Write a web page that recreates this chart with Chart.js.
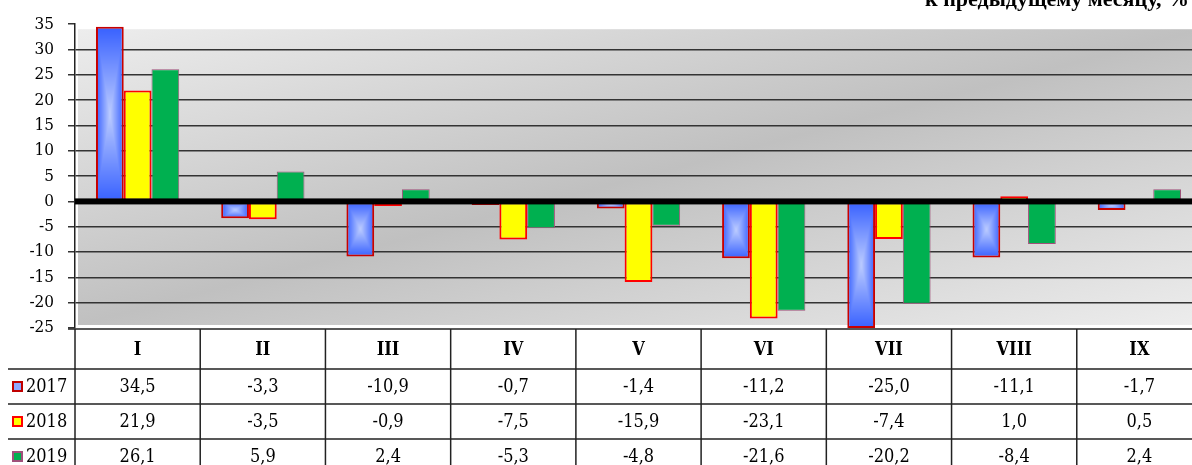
<!DOCTYPE html>
<html lang="ru">
<head>
    <meta charset="UTF-8">
    <title>Индекс к предыдущему месяцу</title>
    <script src="https://cdn.jsdelivr.net/npm/chart.js"></script>
    <style>
        html, body { margin: 0; padding: 0; background: #fff; overflow: hidden; }
        #wrap { position: absolute; left: 0; top: 0; width: 1202px; height: 465px; }
    </style>
</head>
<body>
    <div id="wrap"><canvas id="grafico"></canvas></div>
<script>
    // dados
    var meses = ['I', 'II', 'III', 'IV', 'V', 'VI', 'VII', 'VIII', 'IX'];
    var anos = ['2017', '2018', '2019'];
    var v2017 = [34.5, -3.3, -10.9, -0.7, -1.4, -11.2, -25.0, -11.1, -1.7];
    var v2018 = [21.9, -3.5, -0.9, -7.5, -15.9, -23.1, -7.4, 1.0, 0.5];
    var v2019 = [26.1, 5.9, 2.4, -5.3, -4.8, -21.6, -20.2, -8.4, 2.4];
    var titulo = 'к предыдущему месяцу, %';

    var fonte = '"DejaVu Serif Condensed", "DejaVu Serif"';
    var catPct = 0.665;

    function fmt(v) {
        return v.toFixed(1).replace('.', ',');
    }

    // gradiente "do centro" das barras de 2017
    function padraoAzul(w, h) {
        var cv = document.createElement('canvas');
        cv.width = Math.max(1, Math.round(w));
        cv.height = Math.max(1, Math.round(h));
        var c = cv.getContext('2d');
        var img = c.createImageData(cv.width, cv.height);
        var hw = cv.width / 2, hh = cv.height / 2;
        var ext = [55, 96, 255], cen = [188, 204, 255];
        for (var py = 0; py < cv.height; py++) {
            for (var px = 0; px < cv.width; px++) {
                var t = Math.max(Math.abs(px + 0.5 - hw) / hw, Math.abs(py + 0.5 - hh) / hh);
                var i = (py * cv.width + px) * 4;
                img.data[i] = cen[0] + (ext[0] - cen[0]) * t;
                img.data[i + 1] = cen[1] + (ext[1] - cen[1]) * t;
                img.data[i + 2] = cen[2] + (ext[2] - cen[2]) * t;
                img.data[i + 3] = 255;
            }
        }
        c.putImageData(img, 0, 0);
        return cv;
    }

    function azul(context) {
        var chart = context.chart;
        if (!chart.chartArea) return '#4a70ff';
        var x = chart.scales.x, y = chart.scales.y;
        var w = x.width / meses.length * catPct / 3;
        var cx = x.getPixelForValue(context.dataIndex) - w;
        var yv = y.getPixelForValue(v2017[context.dataIndex]);
        var y0 = y.getPixelForValue(0);
        var topo = Math.min(yv, y0), h = Math.abs(yv - y0);
        var p = chart.ctx.createPattern(padraoAzul(w, h), 'no-repeat');
        p.setTransform(new DOMMatrix().translate(cx - w / 2, topo));
        return p;
    }

    var fundo = {
        id: 'fundo',
        beforeDraw(chart) {
            var a = chart.chartArea, c = chart.ctx;
            var x0 = a.left + 3, y0 = a.top + 5, x1 = chart.width, y1 = a.bottom - 3;
            var W = x1 - x0, H = y1 - y0;
            var cx = (x0 + x1) / 2, cy = (y0 + y1) / 2;
            var k = W * H / (W * W + H * H);
            var g = c.createLinearGradient(cx - H * k, cy - W * k, cx + H * k, cy + W * k);
            g.addColorStop(0, '#ededed');
            g.addColorStop(0.5, '#c0c0c0');
            g.addColorStop(1, '#ededed');
            c.save();
            c.fillStyle = g;
            c.fillRect(x0, y0, W, H);
            c.restore();
        }
    };

    var linhaZero = {
        id: 'linhaZero',
        afterDatasetsDraw(chart) {
            var a = chart.chartArea, c = chart.ctx;
            var y = chart.scales.y.getPixelForValue(0);
            c.save();
            c.fillStyle = '#000';
            c.fillRect(a.left, y - 3, chart.width - a.left, 6);
            c.restore();
        }
    };

    var tabela = {
        id: 'tabela',
        afterDraw(chart) {
            var a = chart.chartArea, c = chart.ctx, x = chart.scales.x;
            var passo = x.width / meses.length;
            var topo = a.bottom + 1;
            var linhas = [topo, topo + 40, topo + 75, topo + 110];
            var series = [v2017, v2018, v2019];
            c.save();
            c.strokeStyle = '#222';
            c.lineWidth = 1.5;
            // linhas horizontais
            c.beginPath();
            c.moveTo(a.left - 7, linhas[0]);
            c.lineTo(chart.width, linhas[0]);
            for (var i = 1; i < linhas.length; i++) {
                c.moveTo(8, linhas[i]);
                c.lineTo(chart.width, linhas[i]);
            }
            // linhas verticais
            for (var j = 0; j <= meses.length; j++) {
                var xx = a.left + j * passo;
                c.moveTo(xx, topo);
                c.lineTo(xx, chart.height);
            }
            c.stroke();

            c.fillStyle = '#000';
            c.textAlign = 'center';
            c.textBaseline = 'middle';
            c.font = 'bold 18px ' + fonte;
            meses.forEach(function (m, i) {
                c.fillText(m, x.getPixelForValue(i), (linhas[0] + linhas[1]) / 2 + 1);
            });
            c.font = '18px ' + fonte;
            series.forEach(function (s, r) {
                var yy = linhas[r + 1] + 18;
                s.forEach(function (v, i) {
                    c.fillText(fmt(v), x.getPixelForValue(i), yy);
                });
            });

            // legenda
            var cores = [['#8fa8ff', '#c00000'], ['#ffff00', '#ff0000'], ['#00b050', '#a0507a']];
            c.textAlign = 'left';
            anos.forEach(function (ano, r) {
                var yy = linhas[r + 1] + 18;
                c.fillStyle = cores[r][0];
                c.fillRect(13, yy - 5, 9, 9);
                c.strokeStyle = cores[r][1];
                c.lineWidth = 2;
                c.strokeRect(13, yy - 5, 9, 9);
                c.fillStyle = '#000';
                c.fillText(ano, 26, yy);
            });

            // titulo (cortado no topo)
            c.font = 'bold 22px "Liberation Serif"';
            c.textBaseline = 'alphabetic';
            c.fillText(titulo, 925, 6);
            c.restore();
        }
    };

    var grafico = new Chart(document.getElementById('grafico').getContext('2d'), {
        type: 'bar',
        data: {
            labels: meses,
            datasets: [{
                label: anos[0],
                data: v2017,
                backgroundColor: azul,
                borderColor: '#c80000',
                borderWidth: 2
            }, {
                label: anos[1],
                data: v2018,
                backgroundColor: '#ffff00',
                borderColor: '#ff0000',
                borderWidth: 2
            }, {
                label: anos[2],
                data: v2019,
                backgroundColor: '#00b050',
                borderColor: '#a0507a',
                borderWidth: 1
            }]
        },
        plugins: [fundo, linhaZero, tabela],
        options: {
            responsive: true,
            maintainAspectRatio: false,
            animation: false,
            layout: { padding: { left: 0, right: 0, top: 22, bottom: 137 } },
            datasets: {
                bar: { categoryPercentage: catPct, barPercentage: 1, borderSkipped: false }
            },
            plugins: {
                legend: { display: false },
                tooltip: { enabled: false }
            },
            scales: {
                x: { display: false },
                y: {
                    min: -25,
                    max: 35,
                    afterFit: function (s) { s.width = 75; },
                    ticks: {
                        stepSize: 5,
                        padding: 14,
                        color: '#000',
                        font: { family: fonte, size: 17 }
                    },
                    grid: {
                        tickLength: 7,
                        tickColor: '#333',
                        lineWidth: 1.5,
                        color: function (ctx) {
                            var v = ctx.tick ? ctx.tick.value : null;
                            if (v === 0 || v === 35 || v === -25) return 'rgba(0,0,0,0)';
                            return '#333';
                        }
                    },
                    border: { display: true, color: '#222', width: 1.5 }
                }
            }
        }
    });
</script>
</body>
</html>
